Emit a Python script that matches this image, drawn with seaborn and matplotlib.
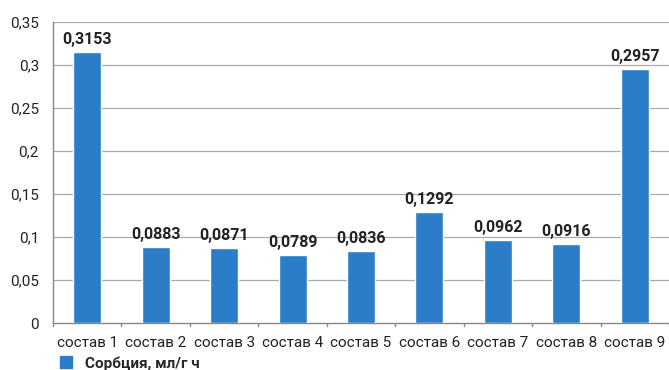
import matplotlib
matplotlib.use("Agg")
import matplotlib.pyplot as plt
import seaborn as sns
import pandas as pd
from matplotlib.lines import Line2D

categories = ["состав 1", "состав 2", "состав 3", "состав 4", "состав 5",
              "состав 6", "состав 7", "состав 8", "состав 9"]
values = [0.3153, 0.0883, 0.0871, 0.0789, 0.0836, 0.1292, 0.0962, 0.0916, 0.2957]
value_labels = ["0,3153", "0,0883", "0,0871", "0,0789", "0,0836",
                "0,1292", "0,0962", "0,0916", "0,2957"]
y_ticks = [0, 0.05, 0.1, 0.15, 0.2, 0.25, 0.3, 0.35]
y_tick_labels = ["0", "0,05", "0,1", "0,15", "0,2", "0,25", "0,3", "0,35"]
series_name = "Сорбция, мл/г ч"

sns.set_theme(style="white")
plt.rcParams['font.family'] = ['Roboto', 'DejaVu Sans']

bar_color = "#2a7dc6"
df = pd.DataFrame({"cat": categories, "val": values})

fig = plt.figure(figsize=(6.69, 3.70), dpi=100)
ax = fig.add_axes([0.0792, 0.127, 0.9208, 0.8135])

sns.barplot(data=df, x="cat", y="val", color=bar_color, width=0.41,
            saturation=1, ax=ax, zorder=3)

ax.set_ylim(0, 0.35)
ax.set_xlim(-0.5, len(categories) - 0.5)
ax.set_yticks(y_ticks)
ax.set_yticklabels(y_tick_labels, fontsize=11, color="#222222")
ax.set_xlabel("")
ax.set_ylabel("")
ax.tick_params(axis="x", labelsize=11, colors="#222222", length=0, pad=9)
ax.tick_params(axis="y", length=4, width=1, color="#888888", direction="out", pad=6)

for yv in y_ticks[1:]:
    ax.axhline(yv, color="#aaaaaa", lw=0.9, zorder=1)

# category boundary ticks on x-axis
for b in range(len(categories) + 1):
    ax.plot([b - 0.5, b - 0.5], [0, -0.004], color="#888888", lw=1,
            clip_on=False, zorder=4)

for side in ["top", "right"]:
    ax.spines[side].set_visible(False)
for side in ["left", "bottom"]:
    ax.spines[side].set_color("#888888")
    ax.spines[side].set_linewidth(1)

for i, (v, lab) in enumerate(zip(values, value_labels)):
    ax.text(i, v + 0.006, lab, ha="center", va="bottom", fontsize=11.5,
            fontweight="bold", color="#222222")

handle = Line2D([0], [0], marker="s", color="none", markerfacecolor=bar_color,
                markeredgecolor=bar_color, markersize=8)
fig.legend([handle], [series_name], loc="lower left",
           bbox_to_anchor=(0.066, -0.039), frameon=False,
           prop={"weight": "bold", "size": 11}, handlelength=1.0,
           handletextpad=0.8)

fig.savefig("out.png", dpi=100)
